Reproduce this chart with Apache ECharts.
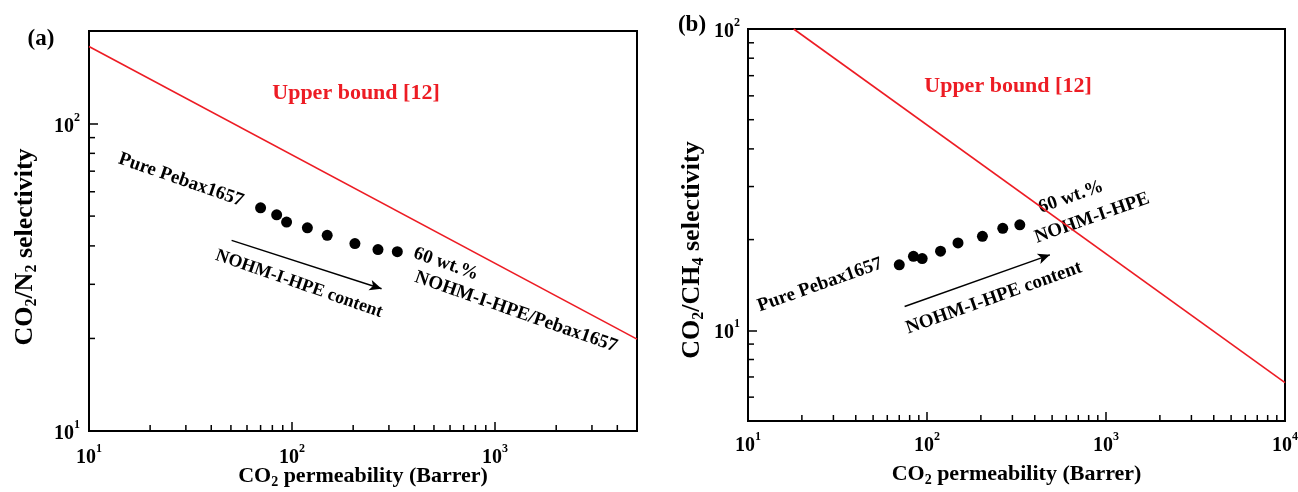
<!DOCTYPE html>
<html>
<head>
    <meta charset="utf-8">
    <title>CO2 upper bound plots</title>
    <style>
        body { margin: 0; background: #fff; }
    </style>
</head>
<body>
    <div id="main" style="width: 1298px;height:492px;"></div>
    <script src="https://cdn.jsdelivr.net/npm/echarts@6/dist/echarts.min.js"></script>
    <script type="text/javascript">
        // 数据
        var perm = [70, 84, 94, 119, 149, 204, 265, 330];               // CO2 permeability (Barrer)
        var selN2 = [53.2, 50.5, 47.8, 45.8, 43.3, 40.7, 38.9, 38.3];     // CO2/N2 selectivity
        var selCH4 = [16.5, 17.6, 17.3, 18.3, 19.5, 20.5, 21.8, 22.4];   // CO2/CH4 selectivity
        var boundN2 = [[10, 178], [5000, 19.9]];      // Robeson upper bound CO2/N2
        var boundCH4 = [[18, 100], [10000, 6.7]];     // Robeson upper bound CO2/CH4
        var arrowN2 = [[50.4, 41.7], [276, 29.0]];
        var arrowCH4 = [[75, 12.0], [486, 17.8]];
        var xTicksA = [20, 30, 40, 50, 60, 70, 80, 90, 200, 300, 400, 500, 600, 700, 800, 900, 2000, 3000, 4000];
        var yTicksA = [20, 30, 40, 50, 60, 70, 80, 90];
        var xTicksB = [20, 30, 40, 50, 60, 70, 80, 90, 200, 300, 400, 500, 600, 700, 800, 900, 2000, 3000, 4000, 5000, 6000, 7000, 8000, 9000];
        var yTicksB = [6, 7, 8, 9, 20, 30, 40, 50, 60, 70, 80, 90];

        var FONT = 'Liberation Serif';
        var RED = '#ed1c24';

        var myChart = echarts.init(document.getElementById('main'));

        // 10^n 刻度标签
        function powLabel(v) {
            var e = Math.round(Math.log10(v));
            if (Math.abs(Math.pow(10, e) - v) > 1e-6 * v) return '';
            return '{b|10}{s|' + e + '}';
        }
        var tickRich = {
            b: { fontSize: 20, fontWeight: 'bold', fontFamily: FONT, color: '#000', padding: [6, 0, 0, 0] },
            s: { fontSize: 12, fontWeight: 'bold', fontFamily: FONT, color: '#000', padding: [0, 0, 12, 0] }
        };
        function nameRich(size) {
            return {
                m: { fontSize: size, fontWeight: 'bold', fontFamily: FONT, color: '#000' },
                s: { fontSize: Math.round(size * 0.62), fontWeight: 'bold', fontFamily: FONT, color: '#000', padding: [Math.round(size * 0.55), 0, 0, 0] }
            };
        }

        function makeAxis(idx, min, max, name, gap, margin, isX, namePad) {
            return {
                type: 'log', gridIndex: idx, min: min, max: max,
                name: name, nameLocation: 'middle', nameGap: gap, nameMoveOverlap: false,
                nameRotate: isX ? 0 : 90,
                nameTextStyle: { rich: nameRich(isX ? 22 : 26), padding: namePad || 0 },
                axisLine: { show: true, lineStyle: { color: '#000', width: 2 } },
                axisTick: { show: true, inside: true, length: 9, lineStyle: { color: '#000', width: 1.5 } },
                axisLabel: { show: true, margin: margin, showMinLabel: true, formatter: powLabel, rich: tickRich },
                splitLine: { show: false }
            };
        }

        // 次刻度：用自定义系列通过坐标轴换算画出
        function minorTicks(xi, values, fixed, isX) {
            return {
                type: 'custom', xAxisIndex: xi, yAxisIndex: xi, silent: true, clip: false, z: 5,
                data: values.map(function (v) { return isX ? [v, fixed] : [fixed, v]; }),
                renderItem: function (params, api) {
                    var p = api.coord([api.value(0), api.value(1)]);
                    var shape = isX ? { x1: p[0], y1: p[1], x2: p[0], y2: p[1] - 6 }
                                    : { x1: p[0], y1: p[1], x2: p[0] + 6, y2: p[1] };
                    return { type: 'line', shape: shape, style: { stroke: '#000', lineWidth: 1.5 } };
                }
            };
        }

        function zip(a, b) {
            return a.map(function (v, i) { return [v, b[i]]; });
        }

        function arrowLine(pts) {
            return {
                silent: true, symbol: ['none', 'arrow'], symbolSize: [8, 12],
                label: { show: false },
                lineStyle: { color: '#000', width: 1.5, type: 'solid' },
                data: [[{ coord: pts[0] }, { coord: pts[1] }]]
            };
        }

        function txt(x, y, text, size, rot, color) {
            return {
                type: 'text', x: x, y: y, rotation: rot || 0, silent: true,
                style: {
                    text: text, fill: color || '#000',
                    font: 'bold ' + size + 'px "' + FONT + '"',
                    align: 'center', verticalAlign: 'middle',
                    textAlign: 'center', textVerticalAlign: 'middle'
                }
            };
        }

        var rA = -0.335, rB = 0.34;

        var option = {
            animation: false,
            grid: [
                { left: 89, top: 31, width: 548, height: 400, outerBoundsMode: 'none', containLabel: false,
                  show: true, borderColor: '#000', borderWidth: 2 },
                { left: 748, top: 29, width: 537, height: 392, outerBoundsMode: 'none', containLabel: false,
                  show: true, borderColor: '#000', borderWidth: 2 }
            ],
            xAxis: [
                makeAxis(0, 10, 5000, '{m|CO}{s|2}{m| permeability (Barrer)}', 32, 11, true),
                makeAxis(1, 10, 10000, '{m|CO}{s|2}{m| permeability (Barrer)}', 40, 9, true)
            ],
            yAxis: [
                makeAxis(0, 10, 200, '{m|CO}{s|2}{m|/N}{s|2}{m| selectivity}', 49, 9, false, [0, 32, 0, 0]),
                makeAxis(1, 5, 100, '{m|CO}{s|2}{m|/CH}{s|4}{m| selectivity}', 41, 8, false, [0, 50, 0, 0])
            ],
            series: [
                {
                    type: 'line', xAxisIndex: 0, yAxisIndex: 0, data: boundN2,
                    symbol: 'none', lineStyle: { color: RED, width: 1.6 }
                },
                {
                    type: 'scatter', xAxisIndex: 0, yAxisIndex: 0, data: zip(perm, selN2),
                    symbolSize: 11, itemStyle: { color: '#000', opacity: 1 },
                    markLine: arrowLine(arrowN2)
                },
                {
                    type: 'line', xAxisIndex: 1, yAxisIndex: 1, data: boundCH4,
                    symbol: 'none', lineStyle: { color: RED, width: 1.6 }
                },
                {
                    type: 'scatter', xAxisIndex: 1, yAxisIndex: 1, data: zip(perm, selCH4),
                    symbolSize: 11, itemStyle: { color: '#000', opacity: 1 },
                    markLine: arrowLine(arrowCH4)
                },
                minorTicks(0, xTicksA, 10, true),
                minorTicks(0, yTicksA, 10, false),
                minorTicks(1, xTicksB, 5, true),
                minorTicks(1, yTicksB, 10, false)
            ],
            graphic: [
                txt(41, 39, '(a)', 23),
                txt(692, 25, '(b)', 23),
                txt(356, 93, 'Upper bound [12]', 22, 0, RED),
                txt(1008, 86, 'Upper bound [12]', 22, 0, RED),
                txt(181, 180, 'Pure Pebax1657', 19, rA),
                txt(446, 264, '60 wt.%', 19, rA),
                txt(516, 312, 'NOHM-I-HPE/Pebax1657', 19, rA),
                txt(299, 284, 'NOHM-I-HPE content', 18, rA),
                txt(820, 285, 'Pure Pebax1657', 19, rB),
                txt(1071, 197, '60 wt.%', 19, rB),
                txt(1092, 218, 'NOHM-I-HPE', 19, rB),
                txt(994, 298, 'NOHM-I-HPE content', 19, rB)
            ]
        };

        myChart.setOption(option);
    </script>
</body>
</html>
